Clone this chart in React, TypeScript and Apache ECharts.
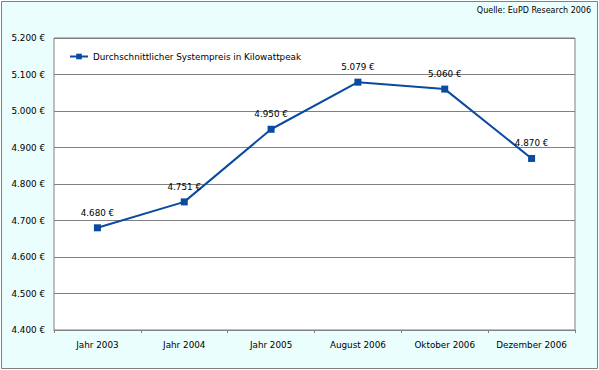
import React, { useEffect, useRef } from "react";
import * as echarts from "echarts";

const categories = ["Jahr 2003", "Jahr 2004", "Jahr 2005", "August 2006", "Oktober 2006", "Dezember 2006"];
const values = [4680, 4751, 4950, 5079, 5060, 4870];
const seriesName = "Durchschnittlicher Systempreis in Kilowattpeak";
const sourceText = "Quelle: EuPD Research 2006";

const fmt = (v: number) => {
  const s = Math.round(v).toString();
  return s.slice(0, s.length - 3) + "." + s.slice(s.length - 3) + " €";
};

const FONT = "DejaVu Sans";
const BLUE = "#0A4AA0";

export default function App() {
  const ref = useRef<HTMLDivElement>(null);
  useEffect(() => {
    const chart = echarts.init(ref.current!, null, { renderer: "svg" });
    chart.setOption({
      animation: false,
      textStyle: { fontFamily: FONT },
      graphic: [
        {
          type: "rect",
          z: -10,
          shape: { x: 1.5, y: 1.5, width: 596, height: 367 },
          style: { fill: "#EAFEFD", stroke: "#808080", lineWidth: 1 },
        },
        {
          type: "text",
          right: 8,
          top: 6,
          style: { text: sourceText, font: `8px "${FONT}"`, fill: "#000" },
        },
      ],
      legend: {
        left: 64,
        top: 47,
        itemWidth: 18,
        itemHeight: 7,
        itemGap: 5,
        textStyle: { fontSize: 8.8, color: "#000", fontFamily: FONT },
        data: [seriesName],
      },
      grid: {
        left: 54,
        top: 38,
        right: 24,
        bottom: 40,
        show: true,
        backgroundColor: "#fff",
        borderColor: "#808080",
        borderWidth: 1,
      },
      xAxis: {
        type: "category",
        data: categories,
        boundaryGap: true,
        axisLine: { show: true, lineStyle: { color: "#808080" } },
        axisTick: { show: true, interval: 0, length: 3, lineStyle: { color: "#808080" } },
        axisLabel: { color: "#000", fontSize: 8.8, margin: 10, interval: 0, fontFamily: FONT },
      },
      yAxis: {
        type: "value",
        min: 4400,
        max: 5200,
        interval: 100,
        axisLine: { show: false },
        axisTick: { show: false },
        splitLine: { lineStyle: { color: "#808080" } },
        axisLabel: { color: "#000", fontSize: 8.8, margin: 9, fontFamily: FONT, formatter: (v: number) => fmt(v) },
      },
      series: [
        {
          name: seriesName,
          type: "line",
          data: values,
          symbol: "rect",
          symbolSize: 7,
          lineStyle: { color: BLUE, width: 2 },
          itemStyle: { color: BLUE },
          label: {
            show: true,
            position: "top",
            distance: 7,
            color: "#000",
            fontSize: 8.8,
            fontFamily: FONT,
            formatter: (p: any) => fmt(p.value),
          },
        },
      ],
    });
    return () => chart.dispose();
  }, []);
  return (
    <div style={{ position: "fixed", left: 0, top: 0, background: "#fff" }}>
      <div ref={ref} style={{ width: 599, height: 370 }} />
    </div>
  );
}
